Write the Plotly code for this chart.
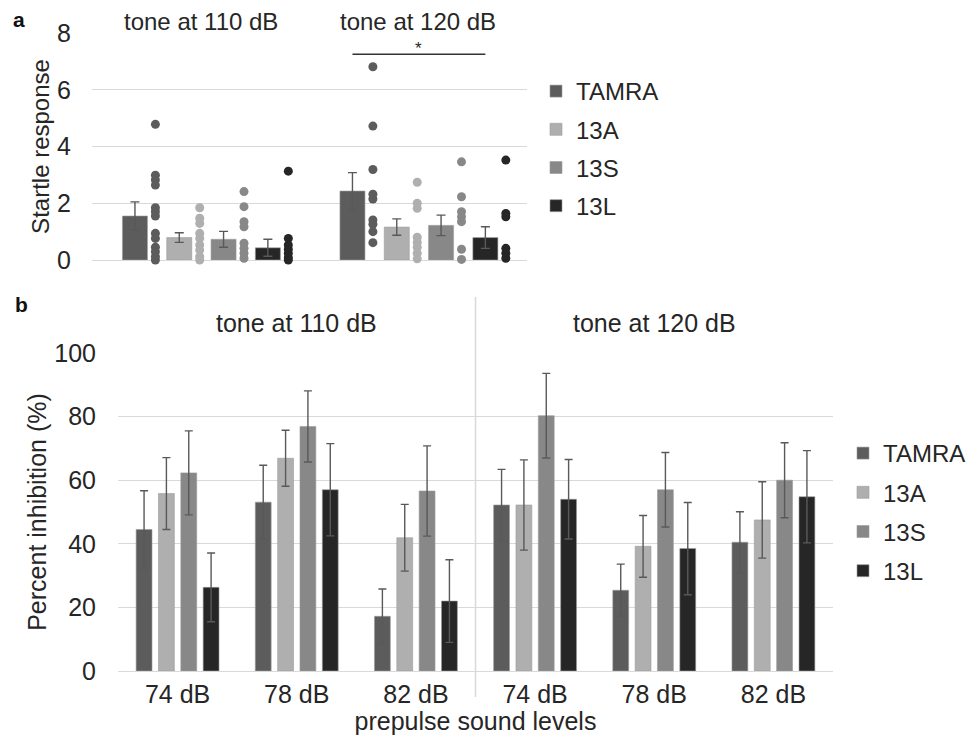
import plotly.graph_objects as go

# ---------------- data ----------------
series = ["TAMRA", "13A", "13S", "13L"]
colors = ["#5c5c5c", "#afafaf", "#888888", "#262626"]

# panel a : startle response
tone_groups = ["tone at 110 dB", "tone at 120 dB"]
startle_tamra = [1.55, 2.43]
startle_13a = [0.79, 1.16]
startle_13s = [0.73, 1.22]
startle_13l = [0.43, 0.79]
startle_tamra_err = [0.50, 0.65]
startle_13a_err = [0.17, 0.29]
startle_13s_err = [0.28, 0.36]
startle_13l_err = [0.30, 0.38]

dots_tamra_110 = [4.78, 2.99, 2.82, 2.64, 1.84, 1.70, 1.55, 0.94, 0.76, 0.45, 0.29, 0.12, 0.0]
dots_13a_110 = [1.84, 1.47, 1.29, 0.94, 0.76, 0.53, 0.35, 0.12, 0.0]
dots_13s_110 = [2.41, 1.88, 1.35, 1.17, 0.59, 0.41, 0.24, 0.06]
dots_13l_110 = [3.13, 0.76, 0.53, 0.38, 0.24, 0.08, 0.0]
dots_tamra_120 = [6.81, 4.72, 3.19, 2.32, 2.15, 1.41, 1.26, 1.00, 0.61]
dots_13a_120 = [2.74, 2.00, 1.82, 0.80, 0.62, 0.45, 0.24, 0.04]
dots_13s_120 = [3.46, 2.23, 1.70, 1.52, 1.35, 0.38, 0.02]
dots_13l_120 = [3.52, 1.64, 1.52, 0.41, 0.24, 0.06]

# panel b : percent inhibition
prepulse_levels = ["74 dB", "78 dB", "82 dB", "74 dB", "78 dB", "82 dB"]
pi_tamra = [44.5, 53.1, 17.2, 52.2, 25.4, 40.5]
pi_13a = [55.8, 66.9, 41.9, 52.2, 39.2, 47.5]
pi_13s = [62.3, 76.9, 56.6, 80.3, 57.0, 60.0]
pi_13l = [26.3, 57.0, 22.0, 54.0, 38.5, 54.8]
pi_tamra_err = [12.2, 11.6, 8.6, 11.2, 8.2, 9.6]
pi_13a_err = [11.3, 8.8, 10.5, 14.2, 9.7, 12.0]
pi_13s_err = [13.2, 11.2, 14.2, 13.3, 11.7, 11.8]
pi_13l_err = [10.8, 14.5, 13.0, 12.5, 14.5, 14.5]

# ---------------- figure ----------------
FONT = "Liberation Sans, Arial, sans-serif"
TXT = "#262626"
GRID = "#d9d9d9"
ERR = "#595959"
OUTLINE = "#9a9a9a"

fig = go.Figure()

startle_means = [startle_tamra, startle_13a, startle_13s, startle_13l]
startle_errs = [startle_tamra_err, startle_13a_err, startle_13s_err, startle_13l_err]
dots = [[dots_tamra_110, dots_tamra_120], [dots_13a_110, dots_13a_120],
        [dots_13s_110, dots_13s_120], [dots_13l_110, dots_13l_120]]

grp_idx = list(range(len(tone_groups)))
bar_w = 0.115
slot = 0.2037
first_left = -0.36
dot_shift = 0.094

for i, name in enumerate(series):
    left = first_left + i * slot
    fig.add_trace(go.Bar(
        x=grp_idx, y=startle_means[i], name=name, offset=left, width=bar_w,
        marker=dict(color=colors[i], line=dict(color=OUTLINE, width=0.6)),
        error_y=dict(type="data", array=startle_errs[i], color=ERR, thickness=1.4, width=4.5),
        xaxis="x", yaxis="y", legend="legend", legendgroup="a_" + name, cliponaxis=False,
    ))
    for g in grp_idx:
        vals = dots[i][g]
        fig.add_trace(go.Scatter(
            x=[g + left + bar_w / 2 + dot_shift] * len(vals), y=vals, mode="markers",
            marker=dict(color=colors[i], size=9), showlegend=False, legendgroup="a_" + name,
            xaxis="x", yaxis="y", cliponaxis=False, hoverinfo="y",
        ))

pi_means = [pi_tamra, pi_13a, pi_13s, pi_13l]
pi_errs = [pi_tamra_err, pi_13a_err, pi_13s_err, pi_13l_err]
cat_idx = list(range(len(prepulse_levels)))
for i, name in enumerate(series):
    fig.add_trace(go.Bar(
        x=cat_idx, y=pi_means[i], name=name,
        marker=dict(color=colors[i], line=dict(color=OUTLINE, width=0.6)),
        error_y=dict(type="data", array=pi_errs[i], color=ERR, thickness=1.4, width=4),
        xaxis="x2", yaxis="y2", legend="legend2", legendgroup="b_" + name,
    ))

# the page body has an 8px margin, so the figure is 8px smaller than the window
OFF = 8
W, H = 977 - OFF, 735 - OFF
def px_x(v):
    return (v - OFF) / W
def px_y(v):
    return 1 - (v - OFF) / H

fig.update_layout(
    width=W, height=H,
    margin=dict(l=0, r=0, t=0, b=0, autoexpand=False),
    paper_bgcolor="white", plot_bgcolor="white",
    font=dict(family=FONT, color=TXT, size=22),
    barmode="group", bargap=0.25, bargroupgap=0.29,
    xaxis=dict(domain=[px_x(92), px_x(527)], range=[-0.5, 1.5], showgrid=False,
               showticklabels=False, zeroline=False, showline=False, fixedrange=True),
    yaxis=dict(domain=[px_y(260), px_y(33)], range=[0, 8], dtick=2,
               showgrid=True, gridcolor=GRID, gridwidth=1.2,
               zeroline=True, zerolinecolor=GRID, zerolinewidth=1.2,
               ticks="outside", ticklen=15, tickcolor="rgba(0,0,0,0)",
               tickfont=dict(size=25, color=TXT),
               title=dict(text="Startle response", font=dict(size=24, color=TXT), standoff=0)),
    xaxis2=dict(domain=[px_x(118), px_x(833)], range=[-0.5, 5.5],
                tickvals=cat_idx, ticktext=prepulse_levels, showgrid=False,
                zeroline=False, showline=False, ticks="outside", ticklen=1,
                tickcolor="rgba(0,0,0,0)", tickfont=dict(size=25, color=TXT),
                title=dict(text="prepulse sound levels", font=dict(size=25, color=TXT), standoff=11)),
    yaxis2=dict(domain=[px_y(671), px_y(353)], range=[0, 100], dtick=20, anchor="x2",
                showgrid=True, gridcolor=GRID, gridwidth=1.2,
                zeroline=True, zerolinecolor=GRID, zerolinewidth=1.2,
                ticks="outside", ticklen=16, tickcolor="rgba(0,0,0,0)",
                tickfont=dict(size=25, color=TXT),
                title=dict(text="Percent inhibition (%)", font=dict(size=25, color=TXT), standoff=0)),
    legend=dict(x=px_x(536), y=px_y(69), xanchor="left", yanchor="top",
                font=dict(size=24, color=TXT), bgcolor="rgba(0,0,0,0)",
                tracegroupgap=4, itemwidth=30),
    legend2=dict(x=px_x(843), y=px_y(431), xanchor="left", yanchor="top",
                 font=dict(size=24, color=TXT), bgcolor="rgba(0,0,0,0)",
                 tracegroupgap=5, itemwidth=30),
)
fig.update_layout(xaxis2_anchor="y2")

# group titles
for g, t in enumerate(tone_groups):
    fig.add_annotation(x=g, y=px_y(21), xref="x", yref="paper", text=t, showarrow=False,
                       font=dict(size=24, color=TXT), xanchor="center", yanchor="middle")
    fig.add_annotation(x=1 + 3 * g, y=px_y(323), xref="x2", yref="paper", text=t, showarrow=False,
                       font=dict(size=25, color=TXT), xanchor="center", yanchor="middle")

# panel letters
fig.add_annotation(x=px_x(19), y=px_y(20), xref="paper", yref="paper", text="<b>a</b>",
                   showarrow=False, xanchor="center", yanchor="middle",
                   font=dict(size=21, color="#111"))
fig.add_annotation(x=px_x(21), y=px_y(304), xref="paper", yref="paper", text="<b>b</b>",
                   showarrow=False, xanchor="center", yanchor="middle",
                   font=dict(size=21, color="#111"))

# significance bar in panel a (TAMRA vs 13L at 120 dB)
sig_left = 1 + first_left + bar_w / 2
sig_right = 1 + first_left + 3 * slot + bar_w / 2
fig.add_shape(type="line", xref="x", yref="y", x0=sig_left, x1=sig_right, y0=7.25, y1=7.25,
              line=dict(color="#333", width=1.5))
fig.add_annotation(x=(sig_left + sig_right) / 2, y=7.25, xref="x", yref="y", text="*",
                   showarrow=False, yanchor="middle", yshift=6, font=dict(size=17, color=TXT))

# separator between tone groups in panel b
fig.add_shape(type="line", xref="x2", yref="paper", x0=2.5, x1=2.5, y0=px_y(697), y1=px_y(297),
              line=dict(color=GRID, width=1.5))

fig.write_html("out.html")
